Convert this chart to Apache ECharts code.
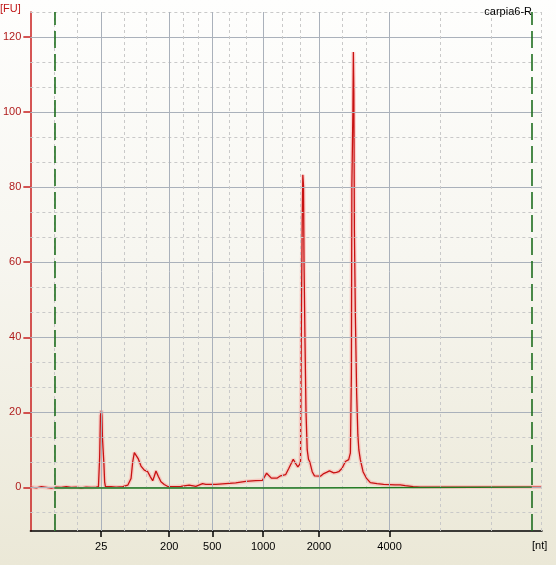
<!DOCTYPE html>
<html>
<head>
<meta charset="utf-8">
<script src="https://cdn.jsdelivr.net/npm/echarts/dist/echarts.min.js"></script>
<style>
html,body{margin:0;padding:0;}
#chart{width:556px;height:565px;background:linear-gradient(to bottom,#fefefd 0%,#f7f6f0 45%,#ebe8d7 100%);}
</style>
</head>
<body>
<div id="chart"></div>
<script>
// ---- data (x: migration time [s], y: fluorescence [FU]) ----
const traceTime = [17.10,17.70,18.20,18.70,19.20,19.70,20.20,20.70,21.20,21.70,22.20,22.70,23.20,23.70,
  23.93,24.05,24.13,24.23,24.28,24.33,24.40,24.47,24.55,24.63,25.20,25.70,26.37,26.87,27.20,27.37,27.53,27.70,
  27.93,28.20,28.53,28.87,29.13,29.37,29.53,29.70,29.93,30.20,30.53,30.93,31.70,32.20,32.37,33.03,33.20,33.70,
  34.37,34.70,35.70,37.03,37.70,38.70,39.70,40.37,40.60,40.80,41.00,41.27,41.87,42.20,42.70,43.03,43.47,43.70,
  43.93,44.13,44.20,44.30,44.37,44.43,44.50,44.55,44.65,44.75,44.87,45.00,45.13,45.37,45.60,45.80,46.20,46.53,
  46.80,47.10,47.30,47.53,47.80,48.03,48.37,48.70,49.03,49.20,49.30,49.35,49.45,49.50,49.55,49.60,49.70,49.83,
  49.95,50.05,50.20,50.47,50.80,51.20,51.87,52.53,53.70,54.20,54.70,55.50,56.20,58.20,60.70,63.20,65.70,67.70,
  67.90,68.40];
const traceFU = [0.1,-0.1,0.2,0.0,-0.2,0.1,0.0,0.2,0.0,0.1,-0.1,0.1,0.0,0.1,
  0.2,8.0,19.2,20.5,19.0,13.4,10.0,6.7,1.5,0.2,0.2,0.1,0.2,0.6,2.4,6.9,9.3,8.9,
  7.6,5.7,4.6,4.2,2.9,1.8,3.0,4.4,3.0,1.5,0.8,0.2,0.2,0.3,0.6,0.6,0.3,0.3,
  1.0,0.8,0.8,1.1,1.2,1.6,1.8,1.9,2.9,3.8,3.3,2.5,2.5,3.1,3.4,5.1,7.5,6.4,
  5.5,6.2,7.0,50.0,71.0,83.3,80.3,60.0,38.5,20.0,10.0,7.5,6.8,4.2,3.1,2.6,3.0,3.7,
  4.0,4.4,4.2,3.9,4.0,4.2,5.1,6.9,7.4,9.2,30.0,80.8,99.7,116.0,105.0,69.0,45.7,25.0,
  14.0,10.0,7.4,4.2,2.5,1.3,1.0,0.8,0.7,0.7,0.5,0.2,0.1,0.1,0.1,0.1,0.1,0.1,
  0.3,0.1];
const baseTime = [19.5,43.5,43.5,67.4];
const baseFU = [-0.15,-0.15,0.1,0.1];
const markerTimes = [19.5,67.4];
const sizeLabels = ['25','200','500','1000','2000','4000'];
const sizeTimes = [24.2,31.03,35.35,40.45,46.05,53.13];
const fuTicks = [0,20,40,60,80,100,120];
const extraMinorTimes = [19.5,21.85,58.23,63.33,68.42];

const X_MIN = 17.1, X_MAX = 68.42, Y_MIN = -11.6, Y_MAX = 126.67;

// ---- grid lines ----
const solidGrid = {color:'#aab1bb',width:1,type:'solid'};
const dashGrid = {color:'#c9c9c9',width:1,type:[3,3]};
const gridLines = [];
fuTicks.forEach(v => gridLines.push({yAxis:v,lineStyle:solidGrid}));
const fuStep = fuTicks[1]-fuTicks[0];
for (let k=-1;k<=19;k++){
  if (k%3===0) continue;
  const v = k*fuStep/3;
  if (v>Y_MIN && v<=Y_MAX+0.01) gridLines.push({yAxis:Math.min(v,Y_MAX-0.05),lineStyle:dashGrid});
}
sizeTimes.forEach(t => gridLines.push({xAxis:t,lineStyle:solidGrid}));
for (let i=0;i<sizeTimes.length-1;i++){
  const d=(sizeTimes[i+1]-sizeTimes[i])/3;
  gridLines.push({xAxis:sizeTimes[i]+d,lineStyle:dashGrid});
  gridLines.push({xAxis:sizeTimes[i]+2*d,lineStyle:dashGrid});
}
extraMinorTimes.forEach(t => gridLines.push({xAxis:Math.min(t,X_MAX-0.05),lineStyle:dashGrid}));

const tracePts = traceTime.map((t,i)=>[t,traceFU[i]]);
const chart = echarts.init(document.getElementById('chart'), null, {renderer:'canvas'});
const font = 'Liberation Sans, Arial, sans-serif';
chart.setOption({
  animation:false,
  backgroundColor:'transparent',
  title:{text:'carpia6-R',right:19,top:1,textStyle:{fontSize:11,fontWeight:'normal',color:'#000',fontFamily:font}},
  graphic:[
    {type:'text',left:0,top:3,style:{text:'[FU]',fill:'#c01818',font:'11px '+font}},
    {type:'text',left:532,top:540,style:{text:'[nt]',fill:'#000',font:'11px '+font}}
  ],
  grid:{left:29,right:14,top:12,bottom:34},
  xAxis:{type:'value',min:X_MIN,max:X_MAX,
    axisLine:{show:true,onZero:false,lineStyle:{color:'#000',width:1.5}},
    axisTick:{show:true,length:6,customValues:sizeTimes,lineStyle:{color:'#000',width:1.5}},
    axisLabel:{customValues:sizeTimes,margin:10,color:'#000',fontSize:11,fontFamily:font,
      formatter:v=>{const i=sizeTimes.findIndex(t=>Math.abs(t-v)<0.01);return i>=0?sizeLabels[i]:'';}},
    splitLine:{show:false}},
  yAxis:{type:'value',min:Y_MIN,max:Y_MAX,
    axisLine:{show:true,onZero:false,lineStyle:{color:'#c81e1e',width:1.5}},
    axisTick:{show:true,length:7,customValues:fuTicks,lineStyle:{color:'#c81e1e',width:1.5}},
    axisLabel:{customValues:fuTicks,margin:9,color:'#b01c1c',fontSize:11,fontFamily:font},
    splitLine:{show:false}},
  series:[
    {type:'line',name:'grid',z:1,data:[[X_MIN,0]],symbol:'none',lineStyle:{opacity:0},silent:true,
      markLine:{silent:true,symbol:'none',label:{show:false},data:gridLines}},
    {type:'line',name:'markers',z:2,data:[[X_MIN,0]],symbol:'none',lineStyle:{opacity:0},silent:true,
      markLine:{silent:true,symbol:'none',label:{show:false},
        lineStyle:{color:'#1f6e1f',width:1.6,type:[17,6]},
        data:markerTimes.map(t=>({xAxis:t}))}},
    {type:'line',name:'glow',z:3,symbol:'none',silent:true,data:tracePts,
      lineStyle:{color:'rgba(255,140,140,0.35)',width:4}},
    {type:'line',name:'trace',z:4,symbol:'none',data:tracePts,
      lineStyle:{color:'#c81212',width:1.3}},
    {type:'line',name:'baseline',z:5,symbol:'none',
      data:baseTime.map((t,i)=>[t,baseFU[i]]),
      lineStyle:{color:'#1f7a1f',width:1.4}}
  ]
});
</script>
</body>
</html>
